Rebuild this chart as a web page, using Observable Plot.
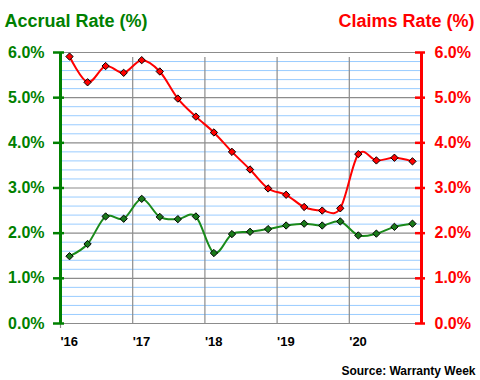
<!DOCTYPE html>
<html>
<head>
<meta charset="utf-8">
<script src="https://cdn.jsdelivr.net/npm/d3@7"></script>
<script src="https://cdn.jsdelivr.net/npm/@observablehq/plot@0.6"></script>
<style>
  html, body { margin: 0; padding: 0; background: #ffffff; }
  #chart svg { display: block; }
</style>
</head>
<body>
<div id="chart"></div>
<script>
// ---- data ----
const years = [2016, 2017, 2018, 2019, 2020];
const yearLabels = ["'16", "'17", "'18", "'19", "'20"];
const quarters = ["Q1", "Q2", "Q3", "Q4"];
const accrualRate = [1.49, 1.76, 2.37, 2.32, 2.76, 2.36, 2.31, 2.37, 1.56, 1.98, 2.03, 2.09, 2.17, 2.21, 2.17, 2.26, 1.95, 1.99, 2.14, 2.21];
const claimsRate  = [5.91, 5.34, 5.70, 5.55, 5.83, 5.58, 4.98, 4.58, 4.23, 3.80, 3.41, 2.99, 2.85, 2.58, 2.50, 2.55, 3.75, 3.61, 3.67, 3.59];
const yTicks = [0, 1, 2, 3, 4, 5, 6];
const yTickLabels = ["0.0%", "1.0%", "2.0%", "3.0%", "4.0%", "5.0%", "6.0%"];
const leftTitle = "Accrual Rate (%)";
const rightTitle = "Claims Rate (%)";
const sourceNote = "Source: Warranty Week";

// ---- derived table ----
const rows = [];
years.forEach((yr, yi) => quarters.forEach((q, qi) => {
  const i = yi * 4 + qi;
  rows.push({t: yr + (qi + 0.5) / 4, accrual: accrualRate[i], claims: claimsRate[i]});
}));
const minorTicks = d3.range(0, 30).map(i => i / 5).filter(v => Math.abs(v - Math.round(v)) > 1e-6);
const endYear = years[years.length - 1] + 1;
const ticks = yTicks.map((v, i) => ({v, label: yTickLabels[i]}));
const yrs = years.map((y, i) => ({y, label: yearLabels[i]}));

const GREEN = "#008000";
const RED = "#ff0000";
const FONT = "'Liberation Sans', Arial, Helvetica, sans-serif";

const chart = Plot.plot({
  width: 480,
  height: 380,
  marginLeft: 60,
  marginRight: 59,
  marginTop: 52,
  marginBottom: 57,
  style: {fontFamily: FONT, background: "#ffffff", overflow: "visible"},
  x: {domain: [years[0], endYear], axis: null},
  y: {domain: [0, 6], axis: null},
  marks: [
    // minor gridlines
    Plot.ruleY(minorTicks, {x1: years[0], x2: endYear, stroke: "#99ccff", strokeWidth: 1}),
    // vertical year gridlines
    Plot.ruleX(years.slice(1), {y1: 0, y2: 6, stroke: "#8c8c8c", strokeWidth: 1.2, insetBottom: -5}),
    Plot.ruleX([years[0]], {y1: 0, y2: 0, stroke: "#8c8c8c", strokeWidth: 1.2, insetBottom: -5}),
    // major gridlines
    Plot.ruleY(yTicks, {x1: years[0], x2: endYear, stroke: "#8c8c8c", strokeWidth: 1.2}),
    // left axis
    Plot.ruleX([years[0]], {y1: 0, y2: 6, stroke: GREEN, strokeWidth: 3}),
    Plot.ruleY(ticks, {y: "v", x1: years[0], x2: years[0], insetLeft: -7, insetRight: -4, stroke: GREEN, strokeWidth: 2.5}),
    Plot.text(ticks, {y: "v", x: years[0], text: "label", dx: -16, textAnchor: "end", lineAnchor: "middle",
      fill: GREEN, fontSize: 16, fontWeight: "bold"}),
    // right axis
    Plot.ruleX([endYear], {y1: 0, y2: 6, stroke: RED, strokeWidth: 3}),
    Plot.ruleY(ticks, {y: "v", x1: endYear, x2: endYear, insetLeft: -6, insetRight: -4, stroke: RED, strokeWidth: 2.5}),
    Plot.text(ticks, {y: "v", x: endYear, text: "label", dx: 13, textAnchor: "start", lineAnchor: "middle",
      fill: RED, fontSize: 16, fontWeight: "bold", letterSpacing: "0.5px"}),
    // year labels
    Plot.text(yrs, {x: "y", y: 0, text: "label", dx: 0, dy: 22, textAnchor: "start", lineAnchor: "bottom",
      fill: "#000", fontSize: 13, fontWeight: "bold"}),
    // series
    Plot.line(rows, {x: "t", y: "claims", stroke: RED, strokeWidth: 2, curve: "cardinal"}),
    Plot.line(rows, {x: "t", y: "accrual", stroke: "#1a8a1a", strokeWidth: 2, curve: "cardinal"}),
    Plot.dot(rows, {x: "t", y: "claims", symbol: "diamond2", r: 3.3, fill: RED, stroke: "#000", strokeWidth: 1}),
    Plot.dot(rows, {x: "t", y: "accrual", symbol: "diamond2", r: 3.3, fill: "#1a7a1a", stroke: "#000", strokeWidth: 1}),
    // titles
    Plot.text([leftTitle], {frameAnchor: "top-left", dx: -56, dy: -25.5, textAnchor: "start", lineAnchor: "bottom",
      fill: GREEN, fontSize: 18, fontWeight: "bold"}),
    Plot.text([rightTitle], {frameAnchor: "top-right", dx: 53, dy: -25.5, textAnchor: "end", lineAnchor: "bottom",
      fill: RED, fontSize: 18, fontWeight: "bold"}),
    Plot.text([sourceNote], {frameAnchor: "bottom-right", dx: 54, dy: 51, textAnchor: "end", lineAnchor: "bottom",
      fill: "#000", fontSize: 12, fontWeight: "bold"})
  ]
});
document.getElementById("chart").appendChild(chart);
</script>
</body>
</html>
